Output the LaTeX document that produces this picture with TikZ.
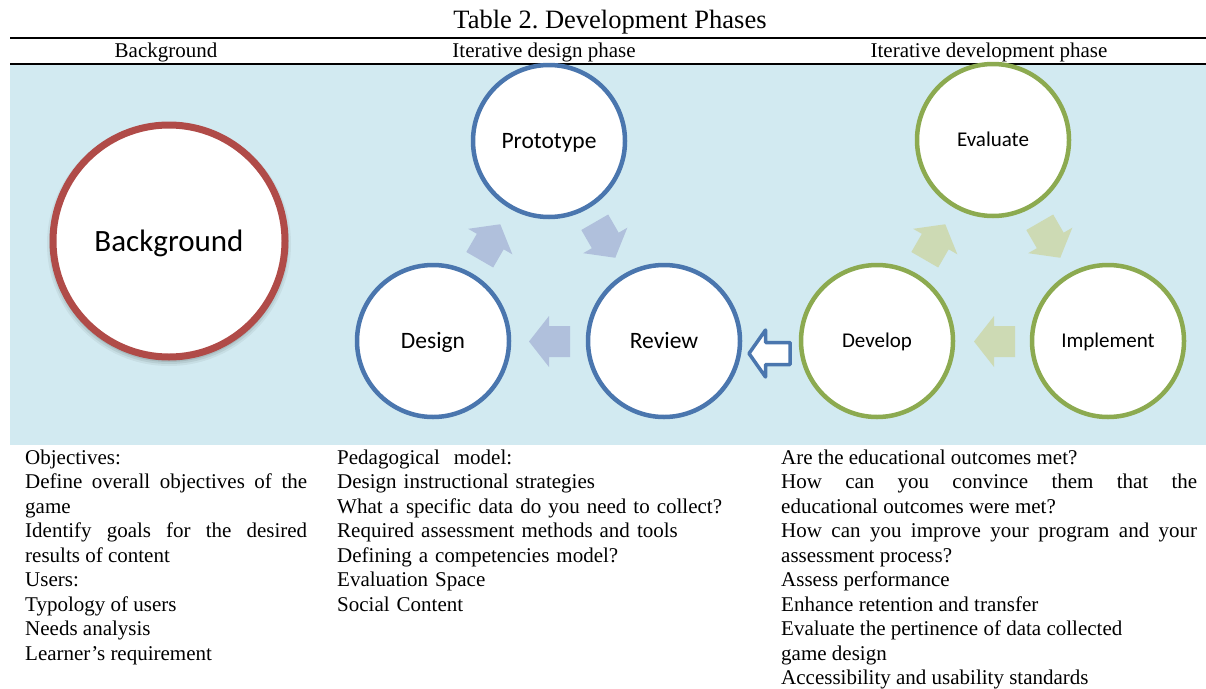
\documentclass[tikz,border=0pt]{standalone}
\usepackage{fontspec}
\setmainfont{Liberation Serif}
\newfontfamily\calfont{Carlito}
\frenchspacing
\definecolor{bandbg}{RGB}{210,234,241}
\definecolor{cblue}{RGB}{74,118,174}
\definecolor{cred}{RGB}{176,75,72}
\definecolor{cgreen}{RGB}{140,170,80}
\definecolor{ablue}{RGB}{176,192,220}
\definecolor{agreen}{RGB}{205,218,180}
\newcommand\bodysetup{\fontsize{21}{24.5}\selectfont\parindent=0pt\relax
  \hyphenpenalty=10000\relax\exhyphenpenalty=10000\relax\tolerance=10000\relax}
\tikzset{
  pics/barrow/.style={code={
    \fill[#1] (-20.5,0) -- (-0.5,-25.5) -- (-0.5,-15.5) -- (20.5,-15.5)
      -- (20.5,15.5) -- (-0.5,15.5) -- (-0.5,25.5) -- cycle;}},
  phase/.style={circle,draw=#1,line width=4.5pt,fill=white,minimum size=152pt,inner sep=0pt},
  bluetxt/.style={font=\calfont\fontsize{23.5}{28}\selectfont,text height=15pt,text depth=0pt},
  greentxt/.style={font=\calfont\fontsize{21}{25}\selectfont,text height=13.5pt,text depth=0pt},
  body/.style={anchor=base west,inner sep=0pt,font=\bodysetup},
  head/.style={anchor=base,inner sep=0pt,font=\fontsize{21}{24.5}\selectfont},
  rule/.style={line width=2pt}
}
\begin{document}
\begin{tikzpicture}[x=1pt,y=-1pt]
\useasboundingbox (0,0) rectangle (1206,688);
% title and header rules
\node[anchor=base,inner sep=0pt,font=\fontsize{26.5}{30}\selectfont] (title) at (610,28) {Table 2. Development Phases};
\coordinate (r1a) at (10,38); \coordinate (r1b) at (1206,38);
\coordinate (r2a) at (10,63.5); \coordinate (r2b) at (1206,63.5);
\draw[rule] (r1a) -- (r1b);
\draw[rule] (r2a) -- (r2b);
\node[head] (h1) at (166,57) {Background};
\node[head] (h2) at (544,57) {Iterative design phase};
\node[head] (h3) at (989,57) {Iterative development phase};
% band
\fill[bandbg] (10,65) rectangle (1206,445);
% background circle with soft shadow
\foreach \r/\o in {122/0.05,120/0.07,118/0.09}
  \fill[black,opacity=\o] (169,244) circle (\r);
\node[circle,draw=cred,line width=7pt,fill=white,minimum size=232pt,inner sep=0pt,
  font=\calfont\fontsize{31}{36}\selectfont,text height=20pt,text depth=0pt] (bg) at (169,241) {Background};
% design phase circles
\node[phase=cblue,bluetxt] (proto) at (549,141) {Prototype};
\node[phase=cblue,bluetxt] (design) at (433,341) {Design};
\node[phase=cblue,bluetxt] (review) at (664,341) {Review};
% development phase circles
\node[phase=cgreen,greentxt] (eval) at (993,140) {Evaluate};
\node[phase=cgreen,greentxt] (develop) at (877,341) {Develop};
\node[phase=cgreen,greentxt] (impl) at (1108,341) {Implement};
% block arrows (design cycle)
\pic[rotate=-120] at (490,242) {barrow=ablue};
\pic[rotate=120] at (605,240) {barrow=ablue};
\pic at (549.5,341.5) {barrow=ablue};
% block arrows (development cycle)
\pic[rotate=-120] at (935,242) {barrow=agreen};
\pic[rotate=120] at (1050,240) {barrow=agreen};
\pic at (994.5,341.5) {barrow=agreen};
% hollow arrow from Develop to Review
\draw[cblue,fill=white,line width=3.5pt,line join=round]
  (749,353.5) -- (765.5,330) -- (765.5,342.5) -- (790,342.5) -- (790,364.5)
  -- (765.5,364.5) -- (765.5,377) -- cycle;
% text columns
\node[body,text width=282pt,align=justify] (c1) at (25,464) {%
Objectives:\par
Define overall objectives of the\linebreak game\par
Identify goals for the desired\linebreak results of content\par
Users:\par
Typology of users\par
Needs analysis\par
Learner’s requirement};
\node[body,text width=410pt,align=left] (c2) at (337,464) {%
Pedagogical\ \ model:\\
Design instructional strategies\\
What a specific data do you need to collect?\\
Required assessment methods and tools\\
Defining a competencies model?\\
Evaluation Space\\
Social Content};
\node[body,text width=416pt,align=justify] (c3) at (781,464) {%
Are the educational outcomes met?\par
How can you convince them that the\linebreak educational outcomes were met?\par
How can you improve your program and your\linebreak assessment process?\par
Assess performance\par
Enhance retention and transfer\par
Evaluate the pertinence of data collected\par
game design\par
Accessibility and usability standards};
\end{tikzpicture}
\end{document}
